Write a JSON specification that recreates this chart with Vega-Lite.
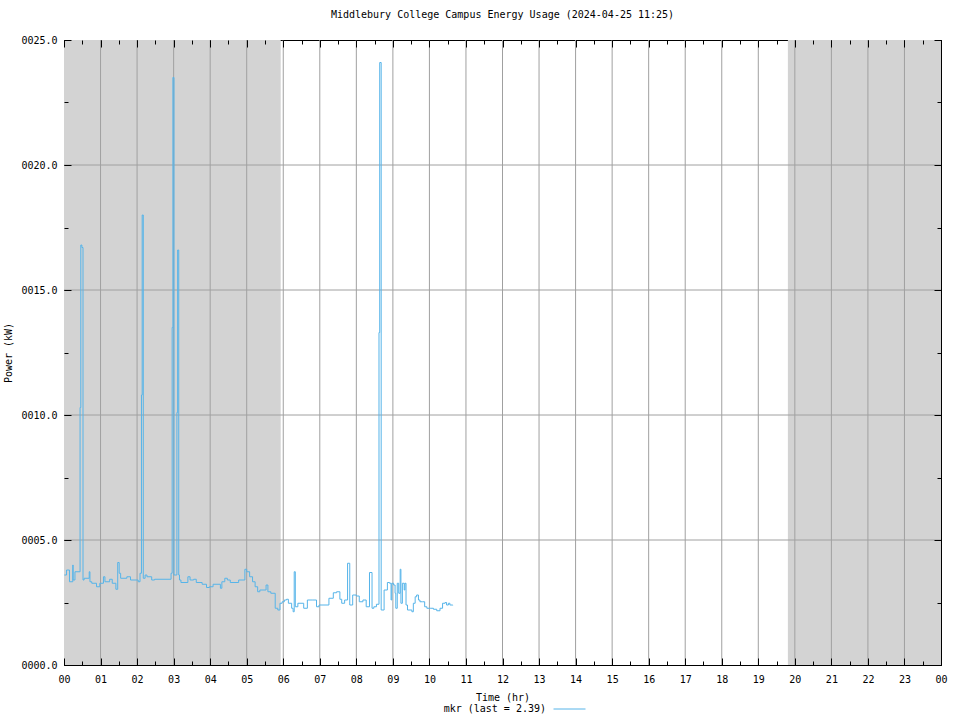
{
  "$schema": "https://vega.github.io/schema/vega-lite/v6.json",
  "width": 877,
  "height": 625,
  "autosize": {"type": "none"},
  "padding": {"left": 64, "top": 40, "right": 19, "bottom": 55},
  "title": {"text": "Middlebury College Campus Energy Usage (2024-04-25 11:25)", "offset": 15},
  "config": {
    "view": {"stroke": "#000000", "strokeWidth": 1},
    "font": "DejaVu Sans Mono",
    "title": {"font": "DejaVu Sans Mono", "fontSize": 10, "fontWeight": "normal", "color": "#000000", "anchor": "middle"},
    "axis": {
      "domain": false, "grid": false, "tickColor": "#000000", "tickWidth": 1, "zindex": 1,
      "labelFont": "DejaVu Sans Mono", "labelFontSize": 10, "labelColor": "#000000",
      "titleFont": "DejaVu Sans Mono", "titleFontSize": 10, "titleFontWeight": "normal", "titleColor": "#000000",
      "labelFlush": false, "labelOverlap": false
    },
    "legend": {"labelFont": "DejaVu Sans Mono", "labelFontSize": 10, "labelColor": "#000000"}
  },
  "datasets": {
    "shade": [{"start": 0, "end": 5.93}, {"start": 19.81, "end": 24}],
    "vgrid": [{"h": 1}, {"h": 2}, {"h": 3}, {"h": 4}, {"h": 5}, {"h": 6}, {"h": 7}, {"h": 8}, {"h": 9}, {"h": 10}, {"h": 11}, {"h": 12}, {"h": 13}, {"h": 14}, {"h": 15}, {"h": 16}, {"h": 17}, {"h": 18}, {"h": 19}, {"h": 20}, {"h": 21}, {"h": 22}, {"h": 23}],
    "hgrid": [{"v": 5}, {"v": 10}, {"v": 15}, {"v": 20}],
    "power": [
      {"t": 0.01, "kw": 3.6}, {"t": 0.07, "kw": 3.8}, {"t": 0.15, "kw": 3.33}, {"t": 0.24, "kw": 4.0}, {"t": 0.25, "kw": 3.4},
      {"t": 0.3, "kw": 3.73}, {"t": 0.44, "kw": 10.3}, {"t": 0.46, "kw": 16.8}, {"t": 0.49, "kw": 16.7}, {"t": 0.52, "kw": 3.4},
      {"t": 0.55, "kw": 3.47}, {"t": 0.69, "kw": 3.73}, {"t": 0.71, "kw": 3.33}, {"t": 0.76, "kw": 3.27}, {"t": 0.89, "kw": 3.13},
      {"t": 0.98, "kw": 3.27}, {"t": 1.08, "kw": 3.53}, {"t": 1.12, "kw": 3.33}, {"t": 1.25, "kw": 3.43}, {"t": 1.32, "kw": 3.27},
      {"t": 1.42, "kw": 3.03}, {"t": 1.47, "kw": 4.1}, {"t": 1.51, "kw": 3.67}, {"t": 1.55, "kw": 3.47}, {"t": 1.72, "kw": 3.53},
      {"t": 1.82, "kw": 3.4}, {"t": 2.03, "kw": 3.33}, {"t": 2.08, "kw": 3.67}, {"t": 2.12, "kw": 10.8}, {"t": 2.14, "kw": 18.0},
      {"t": 2.17, "kw": 3.47}, {"t": 2.22, "kw": 3.6}, {"t": 2.27, "kw": 3.53}, {"t": 2.4, "kw": 3.4}, {"t": 2.48, "kw": 3.43},
      {"t": 2.93, "kw": 3.67}, {"t": 2.96, "kw": 13.5}, {"t": 2.98, "kw": 23.5}, {"t": 3.01, "kw": 3.6}, {"t": 3.09, "kw": 10.1},
      {"t": 3.11, "kw": 16.6}, {"t": 3.14, "kw": 3.6}, {"t": 3.16, "kw": 3.4}, {"t": 3.2, "kw": 3.3}, {"t": 3.39, "kw": 3.53},
      {"t": 3.45, "kw": 3.4}, {"t": 3.55, "kw": 3.43}, {"t": 3.62, "kw": 3.3}, {"t": 3.78, "kw": 3.23}, {"t": 3.9, "kw": 3.1},
      {"t": 3.98, "kw": 3.13}, {"t": 4.08, "kw": 3.23}, {"t": 4.28, "kw": 3.07}, {"t": 4.32, "kw": 3.33}, {"t": 4.4, "kw": 3.47},
      {"t": 4.47, "kw": 3.4}, {"t": 4.55, "kw": 3.3}, {"t": 4.78, "kw": 3.4}, {"t": 4.95, "kw": 3.83}, {"t": 5.0, "kw": 3.73},
      {"t": 5.08, "kw": 3.53}, {"t": 5.16, "kw": 3.33}, {"t": 5.23, "kw": 3.13}, {"t": 5.3, "kw": 2.93}, {"t": 5.36, "kw": 3.0},
      {"t": 5.53, "kw": 3.2}, {"t": 5.58, "kw": 2.93}, {"t": 5.66, "kw": 2.87}, {"t": 5.78, "kw": 2.27}, {"t": 5.85, "kw": 2.2},
      {"t": 5.91, "kw": 2.47}, {"t": 5.97, "kw": 2.53}, {"t": 6.03, "kw": 2.6}, {"t": 6.09, "kw": 2.63}, {"t": 6.14, "kw": 2.47},
      {"t": 6.23, "kw": 2.27}, {"t": 6.27, "kw": 2.13}, {"t": 6.3, "kw": 3.73}, {"t": 6.33, "kw": 2.33}, {"t": 6.4, "kw": 2.47},
      {"t": 6.56, "kw": 2.27}, {"t": 6.66, "kw": 2.6}, {"t": 6.81, "kw": 2.6}, {"t": 6.91, "kw": 2.33}, {"t": 6.98, "kw": 2.4},
      {"t": 7.25, "kw": 2.67}, {"t": 7.37, "kw": 2.89}, {"t": 7.46, "kw": 2.93}, {"t": 7.55, "kw": 2.63}, {"t": 7.6, "kw": 2.47},
      {"t": 7.68, "kw": 2.6}, {"t": 7.76, "kw": 4.07}, {"t": 7.82, "kw": 2.4}, {"t": 7.9, "kw": 2.8}, {"t": 8.0, "kw": 2.76},
      {"t": 8.08, "kw": 2.53}, {"t": 8.18, "kw": 2.6}, {"t": 8.27, "kw": 2.33}, {"t": 8.36, "kw": 3.7}, {"t": 8.43, "kw": 2.27},
      {"t": 8.48, "kw": 2.33}, {"t": 8.55, "kw": 2.43}, {"t": 8.62, "kw": 13.3}, {"t": 8.64, "kw": 24.1}, {"t": 8.68, "kw": 2.2},
      {"t": 8.76, "kw": 3.0}, {"t": 8.85, "kw": 3.3}, {"t": 8.91, "kw": 3.27}, {"t": 8.95, "kw": 2.6}, {"t": 8.97, "kw": 3.27},
      {"t": 9.02, "kw": 3.2}, {"t": 9.06, "kw": 2.87}, {"t": 9.08, "kw": 2.27}, {"t": 9.12, "kw": 3.27}, {"t": 9.16, "kw": 2.87},
      {"t": 9.2, "kw": 3.83}, {"t": 9.22, "kw": 2.47}, {"t": 9.26, "kw": 3.27}, {"t": 9.31, "kw": 3.0}, {"t": 9.33, "kw": 3.27},
      {"t": 9.36, "kw": 2.4}, {"t": 9.4, "kw": 2.2}, {"t": 9.52, "kw": 2.13}, {"t": 9.56, "kw": 2.47}, {"t": 9.61, "kw": 2.73},
      {"t": 9.65, "kw": 2.8}, {"t": 9.7, "kw": 2.6}, {"t": 9.74, "kw": 2.53}, {"t": 9.81, "kw": 2.53}, {"t": 9.87, "kw": 2.33},
      {"t": 9.93, "kw": 2.27}, {"t": 10.02, "kw": 2.27}, {"t": 10.11, "kw": 2.23}, {"t": 10.2, "kw": 2.17}, {"t": 10.29, "kw": 2.27},
      {"t": 10.36, "kw": 2.47}, {"t": 10.43, "kw": 2.5}, {"t": 10.47, "kw": 2.4}, {"t": 10.52, "kw": 2.47}, {"t": 10.56, "kw": 2.4},
      {"t": 10.64, "kw": 2.39}
    ]
  },
  "resolve": {"axis": {"x": "independent", "y": "independent"}},
  "layer": [
    {
      "data": {"name": "shade"},
      "mark": {"type": "rect", "color": "#d3d3d3"},
      "encoding": {
        "x": {"field": "start", "type": "quantitative", "scale": {"domain": [0, 24], "nice": false, "zero": false},
          "axis": {"orient": "bottom", "zindex": 2, "values": [0,1,2,3,4,5,6,7,8,9,10,11,12,13,14,15,16,17,18,19,20,21,22,23,24],
            "labelExpr": "datum.value == 24 ? '00' : (datum.value < 10 ? '0' + datum.value : '' + datum.value)",
            "tickSize": -7, "labelPadding": 16, "title": "Time (hr)", "titlePadding": 8}},
        "x2": {"field": "end"},
        "y": {"datum": 0, "type": "quantitative", "scale": {"domain": [0, 25], "nice": false, "zero": false},
          "axis": {"orient": "left", "zindex": 2, "values": [0, 5, 10, 15, 20, 25], "format": "06.1f", "tickSize": -7, "labelPadding": 14,
            "title": "Power (kW)", "titlePadding": 7}},
        "y2": {"datum": 25}
      }
    },
    {
      "data": {"name": "vgrid"},
      "mark": {"type": "rule", "color": "#a0a0a0", "strokeWidth": 1},
      "encoding": {
        "x": {"field": "h", "type": "quantitative", "scale": {"domain": [0, 24], "nice": false, "zero": false},
          "axis": {"orient": "top", "zindex": 2, "values": [0,1,2,3,4,5,6,7,8,9,10,11,12,13,14,15,16,17,18,19,20,21,22,23,24], "tickSize": -7, "labels": false, "title": null}},
        "y": {"datum": 0, "type": "quantitative", "scale": {"domain": [0, 25], "nice": false, "zero": false},
          "axis": {"orient": "right", "zindex": 2, "values": [0, 5, 10, 15, 20, 25], "tickSize": -7, "labels": false, "title": null}},
        "y2": {"datum": 25}
      }
    },
    {
      "data": {"name": "hgrid"},
      "mark": {"type": "rule", "color": "#a0a0a0", "strokeWidth": 1},
      "encoding": {
        "y": {"field": "v", "type": "quantitative", "scale": {"domain": [0, 25], "nice": false, "zero": false},
          "axis": {"orient": "left", "zindex": 2, "values": [0, 2.5, 5, 7.5, 10, 12.5, 15, 17.5, 20, 22.5, 25], "tickSize": -4, "labels": false, "title": null}},
        "x": {"datum": 0, "type": "quantitative", "scale": {"domain": [0, 24], "nice": false, "zero": false},
          "axis": {"orient": "bottom", "zindex": 2, "values": [0,0.5,1,1.5,2,2.5,3,3.5,4,4.5,5,5.5,6,6.5,7,7.5,8,8.5,9,9.5,10,10.5,11,11.5,12,12.5,13,13.5,14,14.5,15,15.5,16,16.5,17,17.5,18,18.5,19,19.5,20,20.5,21,21.5,22,22.5,23,23.5,24], "tickSize": -4, "labels": false, "title": null}},
        "x2": {"datum": 24}
      }
    },
    {
      "data": {"name": "power"},
      "transform": [{"calculate": "'mkr (last = 2.39)'", "as": "series"}],
      "mark": {"type": "line", "interpolate": "step-after", "strokeWidth": 1},
      "encoding": {
        "x": {"field": "t", "type": "quantitative", "scale": {"domain": [0, 24], "nice": false, "zero": false},
          "axis": {"orient": "top", "zindex": 2, "values": [0,0.5,1,1.5,2,2.5,3,3.5,4,4.5,5,5.5,6,6.5,7,7.5,8,8.5,9,9.5,10,10.5,11,11.5,12,12.5,13,13.5,14,14.5,15,15.5,16,16.5,17,17.5,18,18.5,19,19.5,20,20.5,21,21.5,22,22.5,23,23.5,24], "tickSize": -4, "labels": false, "title": null}},
        "y": {"field": "kw", "type": "quantitative", "scale": {"domain": [0, 25], "nice": false, "zero": false},
          "axis": {"orient": "right", "zindex": 2, "values": [0, 2.5, 5, 7.5, 10, 12.5, 15, 17.5, 20, 22.5, 25], "tickSize": -4, "labels": false, "title": null}},
        "color": {"field": "series", "type": "nominal", "scale": {"range": ["#56b4e9"]},
          "legend": {"title": null, "orient": "none", "legendX": 489, "legendY": 652.5, "symbolType": "stroke", "symbolSize": 1024, "symbolStrokeWidth": 1, "labelAlign": "right", "labelOffset": -40}}
      }
    }
  ]
}
